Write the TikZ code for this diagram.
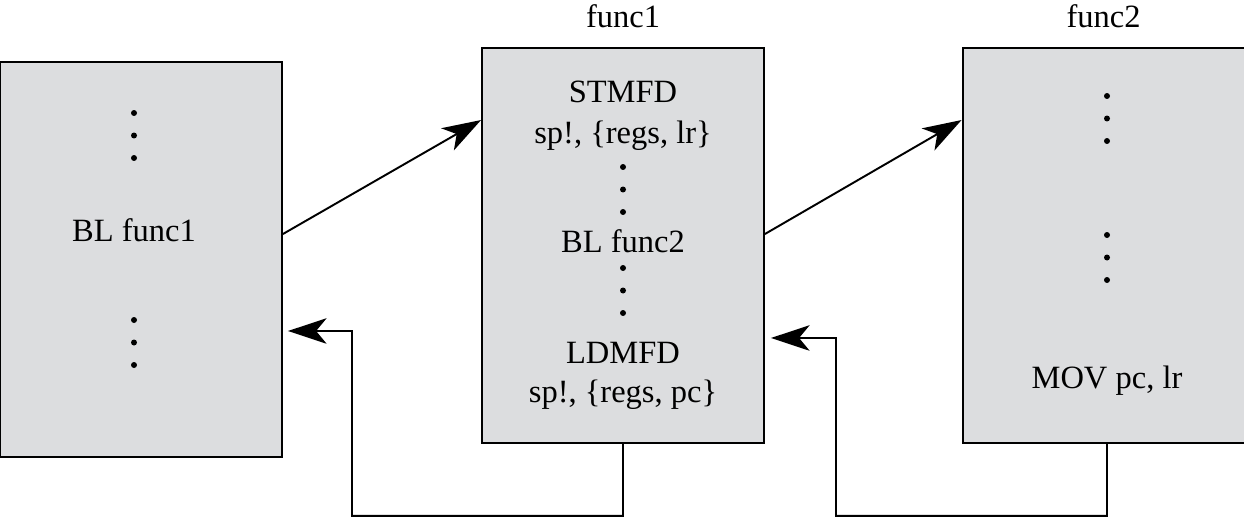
\documentclass[tikz,border=0pt]{standalone}
\usepackage{fontspec}
\setmainfont{Liberation Serif}
\usetikzlibrary{positioning, arrows.meta}
\definecolor{boxgrey}{RGB}{220,221,223}

\tikzset{
    fbox/.style={draw=black, line width=1.1pt, fill=boxgrey, minimum width=5.64cm, minimum height=7.9cm, inner sep=0pt},
    code/.style={anchor=base, inner sep=0pt, font=\fontsize{18.5}{22}\selectfont},
    fwd/.style={line width=1.1pt, -{Stealth[length=22pt, width=14.5pt, inset=6pt]}},
    ret/.style={line width=1.1pt, -{Stealth[length=22pt, width=14.5pt, inset=6pt]}}
}

\begin{document}
\begin{tikzpicture}[x=0.02cm, y=-0.02cm]
        \useasboundingbox (0,0) rectangle (1244,517);

        % boxes
        \node[fbox] (main) at (141,259.5) {};
        \node[fbox] (f1) at (623,245.5) {};
        \node[fbox] (f2) at (1103.5,245.5) {};

        % titles
        \node[code] (t1) at (623,28) {func1};
        \node[code] (t2) at (1103.5,28) {func2};

        % caller
        \node[code] (bl1) at (134,241) {BL func1};

        % func1
        \node[code] (stm) at (623,103) {STMFD};
        \node[code] (stmargs) at (623,143) {sp!, \{regs, lr\}};
        \node[code] (bl2) at (623,252) {BL func2};
        \node[code] (ldm) at (623,363) {LDMFD};
        \node[code] (ldmargs) at (623,402) {sp!, \{regs, pc\}};

        % func2
        \node[code] (mov) at (1107,388) {MOV pc, lr};

        % dots
        \foreach \x/\y in {134/113, 134/320, 623/167, 623/268, 1107/96, 1107/235}
        {
            \foreach \d in {0,22.5,45}
                \fill (\x,\y+\d) circle[radius=0.06cm];
        }

        % calls
        \draw[fwd] ([yshift=0.51cm]main.east) -- ([yshift=2.51cm]f1.west);
        \draw[fwd] ([yshift=0.23cm]f1.east) -- ([yshift=2.51cm]f2.west);

        % returns
        \coordinate (back1) at ([xshift=0.1cm, yshift=-1.43cm]main.east);
        \coordinate (back2) at ([xshift=0.12cm, yshift=-1.85cm]f1.east);
        \draw[ret] (f1.south) -- ++(0,72) -| (352,331) -- (back1);
        \draw[ret] ([xshift=0.07cm]f2.south) -- ++(0,72) -| (836,338) -- (back2);
\end{tikzpicture}
\end{document}
